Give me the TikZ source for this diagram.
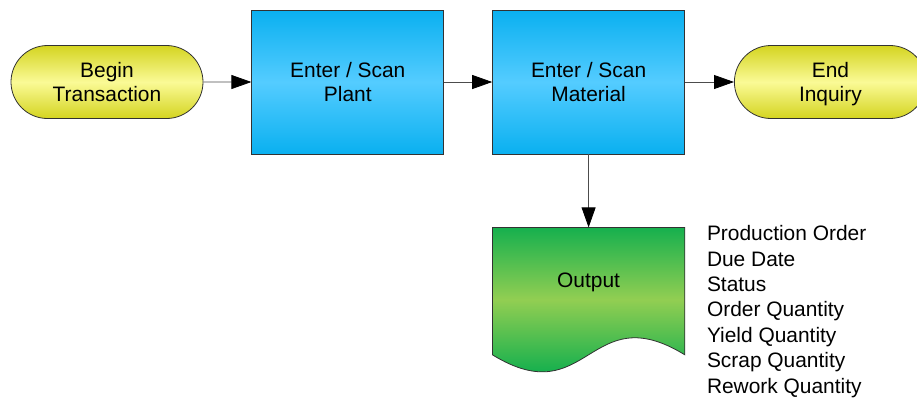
\documentclass[tikz,border=0pt]{standalone}
\usepackage{fontspec}
\setmainfont{Liberation Sans}
\usetikzlibrary{shapes.misc, arrows.meta, positioning, backgrounds}

\definecolor{termedge}{RGB}{212,212,32}
\definecolor{termmid}{RGB}{250,250,150}
\definecolor{boxedge}{RGB}{10,176,240}
\definecolor{boxmid}{RGB}{84,204,255}
\definecolor{docedge}{RGB}{22,176,78}
\definecolor{docmid}{RGB}{146,206,82}
\definecolor{outline}{RGB}{50,50,50}

\begin{document}
\begin{tikzpicture}[x=1bp, y=1bp, font=\fontsize{21}{24.5}\selectfont,
    terminal/.style={rounded rectangle, draw=outline, line width=0.8pt, top color=termedge, bottom color=termedge, middle color=termmid, minimum width=192bp, minimum height=73bp, align=center, inner sep=0pt, text depth=0pt},
    stepbox/.style={rectangle, draw=outline, line width=0.8pt, top color=boxedge, bottom color=boxedge, middle color=boxmid, minimum width=192bp, minimum height=144bp, align=center, inner sep=0pt},
    flow/.style={draw=black!70, line width=0.8pt, -{Triangle[length=20bp, width=14bp, color=black]}}]
        \useasboundingbox (0,0) rectangle (917,-399);

        % Main row
        \node[terminal] (begin) at (107,-82) {Begin\\Transaction};
        \node[stepbox, right=48bp of begin] (plant) {Enter / Scan\\Plant};
        \node[stepbox, right=48bp of plant] (material) {Enter / Scan\\Material};
        \node[terminal, right=49bp of material] (end) {End\\Inquiry};

        % Output document
        \node[minimum width=192bp, minimum height=110bp, inner sep=0pt, below=73bp of material] (output) {Output};
        \begin{scope}[on background layer]
            \def\docpath{([yshift=-17bp]output.south west) -- (output.north west) -- (output.north east) -- ([yshift=-17bp]output.south east)
                .. controls ([yshift=42bp]output.south) and ([yshift=-76bp]output.south) .. ([yshift=-17bp]output.south west) -- cycle}
            \begin{scope}
                \clip \docpath;
                \shade[top color=docedge, bottom color=docedge, middle color=docmid] (output.north west) rectangle ([yshift=-34bp]output.south east);
            \end{scope}
            \draw[draw=outline, line width=0.8pt] \docpath;
        \end{scope}
        \node[anchor=north west, align=left, inner sep=0pt, font=\fontsize{21}{25.5}\selectfont] (fields) at ([xshift=22bp, yshift=2bp]output.north east)
            {Production Order\\Due Date\\Status\\Order Quantity\\Yield Quantity\\Scrap Quantity\\Rework Quantity};

        % Connectors
        \draw[flow] (begin) -- (plant);
        \draw[flow] (plant) -- (material);
        \draw[flow] (material) -- (end);
        \draw[flow] (material) -- (output);
    \end{tikzpicture}
\end{document}
